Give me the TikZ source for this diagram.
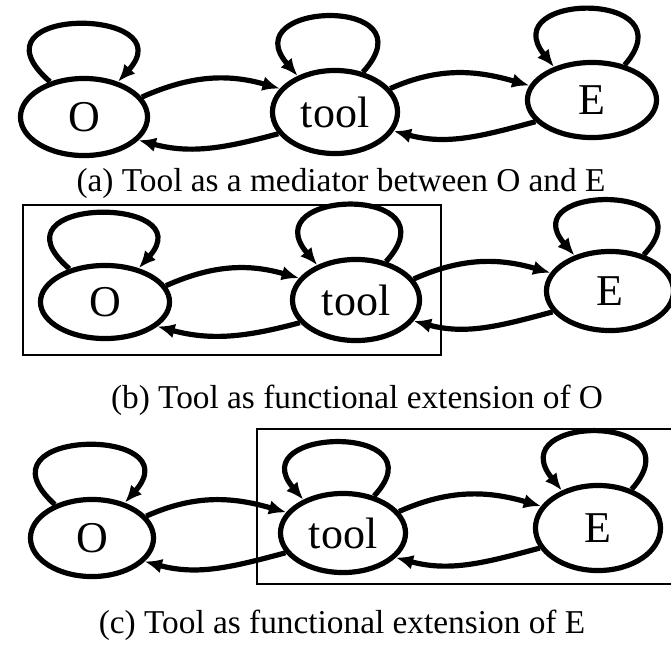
\documentclass[tikz,border=0pt]{standalone}
\usepackage{fontspec}
\setmainfont{Liberation Serif}
\usetikzlibrary{shapes.geometric,arrows.meta}
\begin{document}
\begin{tikzpicture}[x=0.75pt,y=-0.75pt,
  st/.style={ellipse,draw,line width=3.9pt,inner sep=0pt,font=\fontsize{33}{33}\selectfont},
  ed/.style={line width=3.9pt,-{Latex[length=13pt,width=11pt]}},
  frame/.style={line width=1.8pt},
  captext/.style={font=\fontsize{25}{28}\selectfont,inner sep=0pt}]
\useasboundingbox (0,0) rectangle (671,653);
\clip (0,0) rectangle (671,653);
% ---------- (a)
\node[st,minimum width=95.3pt,minimum height=57.8pt] (Oa) at (84,117) {O};
\node[st,minimum width=93.8pt,minimum height=62.3pt] (Ta) at (335,112) {tool};
\node[st,minimum width=96.8pt,minimum height=56.3pt] (Ea) at (592,100) {E};
\draw[ed] (Oa.19) to[out=24,in=164] (Ta.157);
\draw[ed] (Ta.201) to[out=195,in=345] (Oa.337);
\draw[ed] (Ta.23) to[out=24,in=164] (Ea.167);
\draw[ed] (Ea.201) to[out=195,in=345] (Ta.342);
\draw[ed] (Oa.134) .. controls +(-88,-77) and +(68,-75) .. (Oa.46);
\draw[ed] (Ta.55) .. controls +(70,-77) and +(-65,-75) .. (Ta.136);
\draw[ed] (Ea.47) .. controls +(65,-75) and +(-60,-75) .. (Ea.139);
\node[captext] (capa) at (341,183) {(a) Tool as a mediator between O and E};
% ---------- (b)
\draw[frame] (23,205) rectangle (441,355);
\node[st,minimum width=96.8pt,minimum height=54.8pt] (Ob) at (105,302) {O};
\node[st,minimum width=95.3pt,minimum height=60.8pt] (Tb) at (356,300) {tool};
\node[st,minimum width=95.3pt,minimum height=59.3pt] (Eb) at (610,291) {E};
\draw[ed] (Ob.15) to[out=24,in=164] (Tb.159);
\draw[ed] (Tb.202) to[out=195,in=345] (Ob.335);
\draw[ed] (Tb.20) to[out=24,in=164] (Eb.163);
\draw[ed] (Eb.200) to[out=195,in=345] (Tb.340);
\draw[ed] (Ob.137) .. controls +(-85,-73) and +(65,-73) .. (Ob.45);
\draw[ed] (Tb.52) .. controls +(70,-77) and +(-65,-77) .. (Tb.138);
\draw[ed] (Eb.47) .. controls +(68,-72) and +(-62,-72) .. (Eb.135);
\node[captext] (capb) at (357,400) {(b) Tool as functional extension of O};
% ---------- (c)
\draw[frame] (690,429) -| (257,584) -- (690,584);
\node[st,minimum width=92.3pt,minimum height=57.8pt] (Oc) at (92,538) {O};
\node[st,minimum width=93.8pt,minimum height=59.3pt] (Tc) at (343,533) {tool};
\node[st,minimum width=93.8pt,minimum height=63.8pt] (Ec) at (598,528) {E};
\draw[ed] (Oc.22) to[out=24,in=164] (Tc.160);
\draw[ed] (Tc.199) to[out=195,in=345] (Oc.336);
\draw[ed] (Tc.21) to[out=24,in=164] (Ec.159);
\draw[ed] (Ec.199) to[out=195,in=345] (Tc.335);
\draw[ed] (Oc.138) .. controls +(-85,-77) and +(68,-77) .. (Oc.47);
\draw[ed] (Tc.50) .. controls +(68,-73) and +(-62,-73) .. (Tc.140);
\draw[ed] (Ec.49) .. controls +(68,-77) and +(-62,-77) .. (Ec.134);
\node[captext] (capc) at (342,625) {(c) Tool as functional extension of E};
\end{tikzpicture}
\end{document}
